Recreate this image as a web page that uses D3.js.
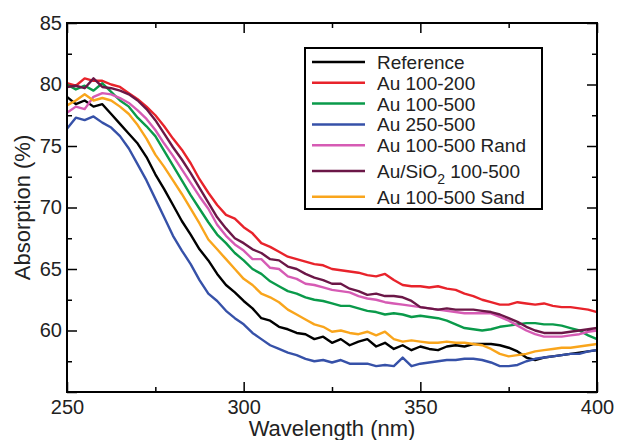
<!DOCTYPE html>
<html>
<meta charset="utf-8">
<head>
    <script src="https://cdnjs.cloudflare.com/ajax/libs/d3/7.8.5/d3.min.js"></script>
    <style>
        body { margin: 0; background: #fff; }
        svg text { font-family: "Liberation Sans", Arial, sans-serif; }
    </style>
</head>
<body>
<script>
    // wavelength grid (nm), 2.5 nm steps
    const wavelength = [250,252.5,255,257.5,260,262.5,265,267.5,270,272.5,275,277.5,280,282.5,285,287.5,290,292.5,295,297.5,
        300,302.5,305,307.5,310,312.5,315,317.5,320,322.5,325,327.5,330,332.5,335,337.5,340,342.5,345,347.5,
        350,352.5,355,357.5,360,362.5,365,367.5,370,372.5,375,377.5,380,382.5,385,387.5,390,392.5,395,397.5,400];

    const reference = [79.0,78.4,78.7,78.2,78.4,77.6,76.8,76.0,75.2,74.1,72.7,71.5,70.2,68.9,67.8,66.6,65.7,64.6,63.7,63.1,
        62.4,61.8,61.0,60.8,60.3,60.1,59.8,59.7,59.3,59.5,59.0,59.3,58.8,59.1,59.3,58.7,59.0,58.5,58.8,58.4,
        58.7,58.5,58.4,58.7,58.8,58.7,58.9,58.9,58.9,58.8,58.6,58.3,57.8,57.6,57.8,57.9,58.0,58.1,58.2,58.3,58.4];
    const au100_200 = [80.1,79.9,80.5,80.3,80.3,80.0,79.8,79.3,78.8,78.2,77.5,76.6,75.6,74.7,73.6,72.3,71.2,70.2,69.4,69.1,
        68.4,67.9,67.1,66.8,66.4,66.0,65.8,65.6,65.4,65.3,65.0,64.9,64.8,64.7,64.5,64.4,64.6,64.1,63.7,63.6,
        63.6,63.5,63.6,63.4,63.3,63.0,62.8,62.5,62.3,62.1,62.1,62.3,62.2,62.1,62.2,62.0,61.9,61.9,61.8,61.7,61.5];
    const au100_500 = [80.0,79.6,79.9,79.5,80.1,79.4,78.7,78.2,77.3,76.6,75.8,74.6,73.4,72.2,71.0,69.9,68.8,67.8,67.1,66.3,
        65.7,65.0,64.6,64.0,63.6,63.2,63.0,62.7,62.5,62.4,62.2,62.0,62.0,61.8,61.6,61.5,61.3,61.4,61.3,61.1,
        61.2,61.1,61.0,60.8,60.5,60.2,60.1,60.0,60.1,60.3,60.4,60.5,60.6,60.6,60.5,60.5,60.4,60.2,60.0,59.6,59.3];
    const au250_500 = [76.4,77.3,77.1,77.4,76.9,76.5,75.8,74.8,73.5,72.2,70.7,69.2,67.7,66.5,65.4,64.1,63.0,62.4,61.6,61.0,
        60.5,59.8,59.3,58.8,58.5,58.2,58.0,57.7,57.5,57.6,57.4,57.6,57.3,57.3,57.3,57.1,57.2,57.1,57.8,57.1,
        57.3,57.4,57.5,57.6,57.6,57.7,57.7,57.6,57.4,57.1,57.1,57.2,57.5,57.7,57.8,57.9,58.0,58.1,58.1,58.3,58.4];
    const au100_500rand = [77.7,78.2,78.0,79.0,79.3,79.2,78.9,78.5,77.9,77.2,76.3,75.2,74.2,73.1,72.0,70.9,69.9,68.6,67.7,67.0,
        66.5,65.8,65.8,65.1,65.0,64.4,64.2,63.8,63.7,63.5,63.3,63.2,63.1,62.8,62.6,62.5,62.3,62.2,62.1,62.0,
        61.9,61.8,61.7,61.6,61.5,61.4,61.4,61.4,61.4,61.1,60.8,60.4,60.0,59.7,59.5,59.5,59.5,59.6,59.7,59.9,60.0];
    const ausio2 = [79.8,79.9,79.7,80.5,79.8,79.7,79.5,79.2,78.7,78.0,77.1,76.0,74.9,73.9,72.8,71.6,70.4,69.2,68.3,67.5,
        67.1,66.6,66.3,65.8,65.7,65.2,65.0,64.6,64.3,64.1,63.8,63.8,63.4,63.2,62.9,63.0,62.8,62.8,62.7,62.4,
        61.9,61.8,61.7,61.8,61.7,61.7,61.7,61.6,61.5,61.3,61.0,60.7,60.3,60.0,59.8,59.8,59.8,59.9,60.0,60.1,60.2];
    const au100_500sand = [78.3,78.7,79.2,78.7,78.9,78.7,78.2,77.6,76.7,75.6,74.3,73.3,72.2,71.1,69.9,68.7,67.4,66.6,65.8,65.0,
        64.2,63.7,63.0,62.7,62.3,61.7,61.3,60.9,60.5,60.3,59.9,60.0,59.8,59.7,59.9,59.6,59.9,59.3,59.1,59.2,
        59.1,59.0,59.0,59.1,59.0,59.0,58.9,58.8,58.5,58.1,57.9,58.0,58.1,58.3,58.4,58.5,58.6,58.6,58.7,58.8,58.9];

    const seriesNames = ["Reference", "Au 100-200", "Au 100-500", "Au 250-500", "Au 100-500 Rand", "Au/SiO2 100-500", "Au 100-500 Sand"];
    const seriesValues = [reference, au100_200, au100_500, au250_500, au100_500rand, ausio2, au100_500sand];
    const colors = ["#000000", "#e8232b", "#0a9a4a", "#3651a8", "#d65bb4", "#6b1747", "#f9a51c"];

    const xTicks = [250, 300, 350, 400];
    const xMinor = [275, 325, 375];
    const yTicks = [55, 60, 65, 70, 75, 80, 85];
    const yMinor = [57.5, 62.5, 67.5, 72.5, 77.5, 82.5];

    const width = 617, height = 440;
    const margin = {left: 67, right: 20, top: 23, bottom: 48};
    const plotW = width - margin.left - margin.right;
    const plotH = height - margin.top - margin.bottom;

    const svg = d3.select("body")
        .append("svg")
        .attr("width", width)
        .attr("height", height);

    const g = svg.append("g").attr("transform", `translate(${margin.left},${margin.top})`);

    const x = d3.scaleLinear().domain([250, 400]).range([0, plotW]);
    const y = d3.scaleLinear().domain([55, 85]).range([plotH, 0]);

    // axes, ticks pointing inward on all four sides
    function styleAxis(sel) {
        sel.attr("font-family", null).attr("font-size", null);
        sel.select(".domain").remove();
        sel.selectAll("line").attr("stroke", "#000").attr("stroke-width", 1.5);
        sel.selectAll("text").attr("font-size", "20px").attr("fill", "#222");
    }

    g.append("g").attr("transform", `translate(0,${plotH})`)
        .call(d3.axisBottom(x).tickValues(xTicks).tickSize(-10).tickPadding(8).tickFormat(d3.format("d")))
        .call(styleAxis);
    g.append("g").attr("transform", `translate(0,${plotH})`)
        .call(d3.axisBottom(x).tickValues(xMinor).tickSize(-5).tickFormat(""))
        .call(styleAxis);
    g.append("g")
        .call(d3.axisTop(x).tickValues(xTicks).tickSize(-10).tickFormat(""))
        .call(styleAxis);
    g.append("g")
        .call(d3.axisTop(x).tickValues(xMinor).tickSize(-5).tickFormat(""))
        .call(styleAxis);

    g.append("g")
        .call(d3.axisLeft(y).tickValues(yTicks).tickSize(-10).tickPadding(5).tickFormat(d => d === 55 ? "" : d))
        .call(styleAxis);
    g.append("g")
        .call(d3.axisLeft(y).tickValues(yMinor).tickSize(-5).tickFormat(""))
        .call(styleAxis);
    g.append("g").attr("transform", `translate(${plotW},0)`)
        .call(d3.axisRight(y).tickValues(yTicks).tickSize(-10).tickFormat(""))
        .call(styleAxis);
    g.append("g").attr("transform", `translate(${plotW},0)`)
        .call(d3.axisRight(y).tickValues(yMinor).tickSize(-5).tickFormat(""))
        .call(styleAxis);

    // data lines
    const line = d3.line()
        .x((d, i) => x(wavelength[i]))
        .y(d => y(d));

    g.selectAll("path.series")
        .data(seriesValues)
        .enter()
        .append("path")
        .attr("class", "series")
        .attr("d", line)
        .attr("fill", "none")
        .attr("stroke", (d, i) => colors[i])
        .attr("stroke-width", 2.4)
        .attr("stroke-linejoin", "round");

    // frame
    g.append("rect")
        .attr("width", plotW).attr("height", plotH)
        .attr("fill", "none").attr("stroke", "#000").attr("stroke-width", 2);

    // axis titles
    svg.append("text")
        .attr("x", margin.left + plotW / 2)
        .attr("y", 436)
        .attr("text-anchor", "middle")
        .attr("font-size", "22px")
        .attr("fill", "#222")
        .text("Wavelength (nm)");

    svg.append("text")
        .attr("transform", `translate(30,${margin.top + plotH / 2}) rotate(-90)`)
        .attr("text-anchor", "middle")
        .attr("font-size", "22px")
        .attr("fill", "#222")
        .text("Absorption (%)");

    // legend
    const legend = svg.append("g");
    legend.append("rect")
        .attr("x", 305).attr("y", 48)
        .attr("width", 237).attr("height", 161)
        .attr("fill", "#fff").attr("stroke", "#000").attr("stroke-width", 2);

    const rowY = i => 62 + i * 20.8 + Math.max(0, i - 4) * 5;

    const rows = legend.selectAll("g.row")
        .data(seriesNames)
        .enter()
        .append("g")
        .attr("class", "row")
        .attr("transform", (d, i) => `translate(0,${rowY(i)})`);

    rows.append("line")
        .attr("x1", 312).attr("x2", 365)
        .attr("stroke", (d, i) => colors[i])
        .attr("stroke-width", 2.5);

    rows.append("text")
        .attr("x", 377).attr("y", 7)
        .attr("font-size", "19px")
        .attr("fill", "#222")
        .each(function(d) {
            const t = d3.select(this);
            if (d.indexOf("SiO2") >= 0) {
                t.append("tspan").text("Au/SiO");
                t.append("tspan").attr("dy", 6).attr("font-size", "14px").text("2");
                t.append("tspan").attr("dy", -6).text(" 100-500");
            } else {
                t.text(d);
            }
        });
</script>
</body>
</html>
